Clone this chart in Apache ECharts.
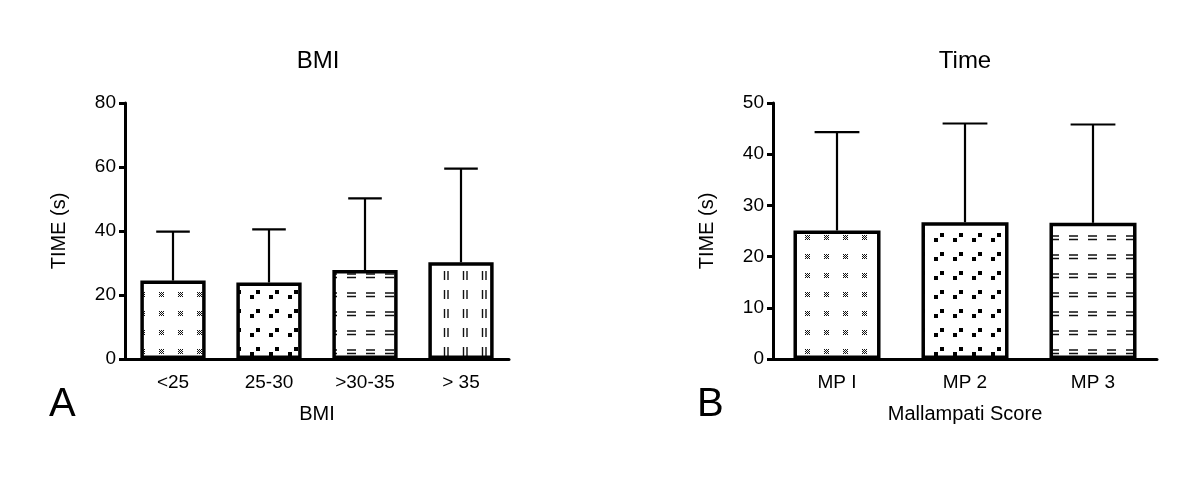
<!DOCTYPE html>
<html>
<head>
<meta charset="utf-8">
<script src="https://cdn.jsdelivr.net/npm/echarts@6/dist/echarts.min.js"></script>
<style>html,body{margin:0;padding:0;background:#fff}#c{width:1200px;height:478px}</style>
</head>
<body>
<div id="c"></div>
<script>
// ---- data ----
const bmiCategories = ['<25', '25-30', '>30-35', '> 35'];
const bmiMeans = [24.5, 23.9, 27.8, 30.2];
const bmiUpper = [39.8, 40.5, 50.2, 59.5];
const bmiPatterns = ['cross', 'squares', 'hdash', 'vdash'];

const mpCategories = ['MP I', 'MP 2', 'MP 3'];
const mpMeans = [25.1, 26.7, 26.6];
const mpUpper = [44.3, 46.0, 45.8];
const mpPatterns = ['cross', 'squares', 'hdash'];

const leftTitle = 'BMI';
const rightTitle = 'Time';
const yName = 'TIME (s)';
const leftXName = 'BMI';
const rightXName = 'Mallampati Score';

// ---- patterns ----
function makePattern(type) {
  const c = document.createElement('canvas');
  c.width = 19; c.height = 19;
  const g = c.getContext('2d');
  g.fillStyle = '#fff';
  g.fillRect(0, 0, 19, 19);
  g.fillStyle = '#111';
  g.strokeStyle = '#111';
  if (type === 'cross') {
    for (let i = 0; i < 5; i++) {
      for (let j = 0; j < 5; j++) {
        if ((i + j) % 2 === 0) g.fillRect(7 + i, 7 + j, 1, 1);
      }
    }
  } else if (type === 'squares') {
    g.fillStyle = '#000';
    g.fillRect(3, 10, 4, 4);
    g.fillRect(9, 5, 4, 4);
  } else if (type === 'hdash') {
    g.lineWidth = 1.4;
    g.beginPath();
    g.moveTo(5, 8); g.lineTo(14, 8);
    g.moveTo(5, 11.5); g.lineTo(14, 11.5);
    g.stroke();
  } else if (type === 'vdash') {
    g.lineWidth = 1.4;
    g.beginPath();
    g.moveTo(7.5, 5); g.lineTo(7.5, 14);
    g.moveTo(11, 5); g.lineTo(11, 14);
    g.stroke();
  }
  return { image: c, repeat: 'repeat' };
}

const FONT = 'Liberation Sans, Arial, sans-serif';

function barData(means, patterns) {
  return means.map((v, i) => ({
    value: v,
    itemStyle: { color: makePattern(patterns[i]), borderColor: '#000', borderWidth: 3.5 }
  }));
}
function errData(means, upper) {
  return means.map((v, i) => [i, upper[i], v]);
}
function renderErr(params, api) {
  const x = api.value(0), top = api.value(1), mean = api.value(2);
  const p1 = api.coord([x, mean]);
  const p2 = api.coord([x, top]);
  const half = api.size([1, 0])[0] * 0.175;
  const st = { stroke: '#000', lineWidth: 2.2 };
  return {
    type: 'group',
    children: [
      { type: 'line', shape: { x1: p1[0], y1: p1[1], x2: p2[0], y2: p2[1] }, style: st },
      { type: 'line', shape: { x1: p2[0] - half, y1: p2[1], x2: p2[0] + half, y2: p2[1] }, style: st }
    ]
  };
}

function xAxis(idx, cats, name) {
  return {
    type: 'category', gridIndex: idx, data: cats,
    name: name, nameLocation: 'middle', nameGap: 45,
    nameTextStyle: { fontFamily: FONT, fontSize: 20, color: '#000' },
    axisLine: { lineStyle: { color: '#000', width: 3 } },
    axisTick: { alignWithLabel: true, length: 6, lineStyle: { color: '#000', width: 3 } },
    axisLabel: { fontFamily: FONT, fontSize: 19, color: '#000', margin: 14 }
  };
}
function yAxis(idx, max, interval) {
  return {
    type: 'value', gridIndex: idx, min: 0, max: max, interval: interval,
    name: yName, nameLocation: 'middle', nameGap: 56, nameRotate: 90,
    nameTextStyle: { fontFamily: FONT, fontSize: 20, color: '#000' },
    axisLine: { show: true, lineStyle: { color: '#000', width: 3 } },
    axisTick: { show: true, length: 6, lineStyle: { color: '#000', width: 3 } },
    axisLabel: { fontFamily: FONT, fontSize: 19, color: '#000', margin: 9 },
    splitLine: { show: false }
  };
}

const chart = echarts.init(document.getElementById('c'));
chart.setOption({
  animation: false,
  backgroundColor: '#fff',
  title: [
    { text: leftTitle, left: 318, top: 49, textAlign: 'center', padding: 0,
      textStyle: { fontFamily: FONT, fontSize: 24, fontWeight: 'normal', color: '#000' } },
    { text: rightTitle, left: 965, top: 49, textAlign: 'center', padding: 0,
      textStyle: { fontFamily: FONT, fontSize: 24, fontWeight: 'normal', color: '#000' } }
  ],
  grid: [
    { left: 125, right: 691, top: 103, bottom: 119 },
    { left: 773, right: 43, top: 103, bottom: 119 }
  ],
  xAxis: [xAxis(0, bmiCategories, leftXName), xAxis(1, mpCategories, rightXName)],
  yAxis: [yAxis(0, 80, 20), yAxis(1, 50, 10)],
  graphic: [
    { type: 'text', left: 49, top: 385, style: { text: 'A', font: '40px ' + FONT, fill: '#000' } },
    { type: 'text', left: 697, top: 385, style: { text: 'B', font: '40px ' + FONT, fill: '#000' } }
  ],
  series: [
    { type: 'custom', xAxisIndex: 0, yAxisIndex: 0, renderItem: renderErr, data: errData(bmiMeans, bmiUpper), z: 1 },
    { type: 'bar', xAxisIndex: 0, yAxisIndex: 0, barWidth: '68%', data: barData(bmiMeans, bmiPatterns), z: 2 },
    { type: 'custom', xAxisIndex: 1, yAxisIndex: 1, renderItem: renderErr, data: errData(mpMeans, mpUpper), z: 1 },
    { type: 'bar', xAxisIndex: 1, yAxisIndex: 1, barWidth: '68%', data: barData(mpMeans, mpPatterns), z: 2 }
  ]
});
</script>
</body>
</html>
